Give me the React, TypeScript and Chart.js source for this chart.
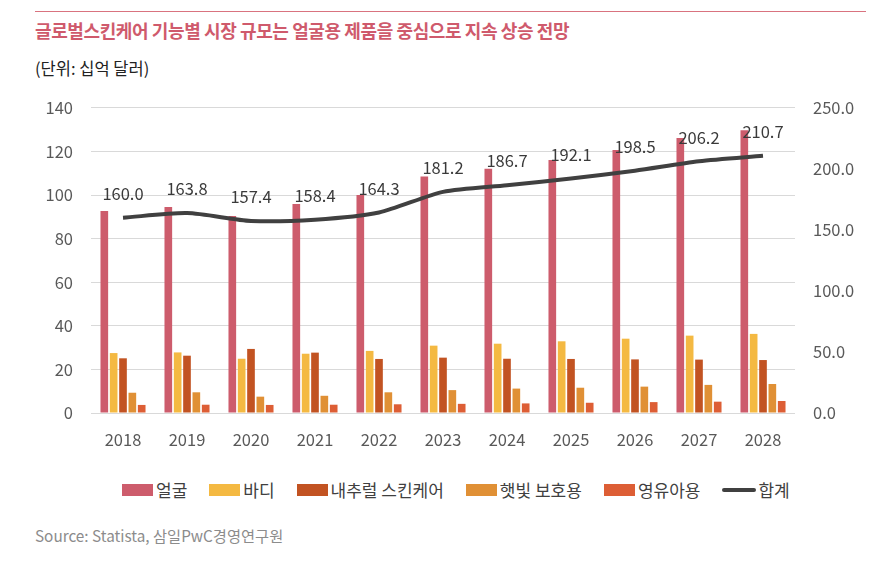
import React, { useEffect, useRef } from "react";
import { Chart, registerables } from "chart.js";

Chart.register(...registerables);

const FONT = '"Noto Sans CJK KR", "Noto Sans", sans-serif';

const years = ["2018", "2019", "2020", "2021", "2022", "2023", "2024", "2025", "2026", "2027", "2028"];
const face = [92.7, 94.5, 90.4, 95.9, 100.0, 108.5, 112.1, 116.1, 120.7, 126.2, 129.7];
const body = [27.5, 27.8, 24.9, 27.2, 28.5, 30.9, 31.8, 32.9, 34.1, 35.5, 36.3];
const natural = [25.1, 26.3, 29.4, 27.7, 24.8, 25.4, 24.9, 24.8, 24.6, 24.5, 24.3];
const sun = [9.3, 9.5, 7.5, 7.9, 9.5, 10.5, 11.2, 11.6, 12.1, 12.9, 13.3];
const baby = [3.7, 3.8, 3.7, 3.8, 4.0, 4.2, 4.4, 4.7, 5.0, 5.2, 5.5];
const total = [160.0, 163.8, 157.4, 158.4, 164.3, 181.2, 186.7, 192.1, 198.5, 206.2, 210.7];

const seriesNames = ["얼굴", "바디", "내추럴 스킨케어", "햇빛 보호용", "영유아용", "합계"];
const colors = ["#CD5C6C", "#F4B942", "#C25322", "#E09035", "#DD5E35", "#404040"];

const leftTicks = { min: 0, max: 140, step: 20 };
const rightTicks = { min: 0, max: 250, step: 50 };

const lineLabelPlugin = {
  id: "lineLabels",
  afterDatasetsDraw(chart: any) {
    const ctx = chart.ctx;
    chart.data.datasets.forEach((ds: any, i: number) => {
      if (ds.type !== "line") return;
      const meta = chart.getDatasetMeta(i);
      ctx.save();
      ctx.font = `16.5px ${FONT}`;
      ctx.fillStyle = "#3A3A3A";
      ctx.textAlign = "center";
      ctx.textBaseline = "middle";
      meta.data.forEach((pt: any, j: number) => {
        ctx.fillText(Number(ds.data[j]).toFixed(1), pt.x, pt.y - 24);
      });
      ctx.restore();
    });
  },
};

export default function App() {
  const canvasRef = useRef<HTMLCanvasElement | null>(null);

  useEffect(() => {
    if (!canvasRef.current) return;
    const barSeries = [face, body, natural, sun, baby];
    const chart = new Chart(canvasRef.current, {
      type: "bar",
      data: {
        labels: years,
        datasets: [
          {
            type: "line",
            label: seriesNames[5],
            data: total,
            yAxisID: "y1",
            borderColor: colors[5],
            backgroundColor: colors[5],
            borderWidth: 4,
            pointRadius: 0,
            tension: 0.25,
            order: 0,
          } as any,
          ...barSeries.map((d, i) => ({
            type: "bar",
            label: seriesNames[i],
            data: d,
            yAxisID: "y",
            backgroundColor: colors[i],
            borderWidth: 0,
            categoryPercentage: 0.73,
            barPercentage: 0.82,
            order: 1,
          })),
        ],
      },
      options: {
        animation: false,
        responsive: false,
        devicePixelRatio: 1,
        layout: { padding: { top: 9, left: 0, right: 0, bottom: 0 } },
        plugins: { legend: { display: false }, tooltip: { enabled: false } },
        scales: {
          x: {
            grid: { display: false, drawTicks: false },
            border: { display: false },
            ticks: { color: "#595959", font: { family: FONT, size: 16.5 }, padding: 17, maxRotation: 0 },
            afterFit: (s: any) => { s.height = 42; },
          },
          y: {
            position: "left",
            min: leftTicks.min,
            max: leftTicks.max,
            ticks: { stepSize: leftTicks.step, color: "#595959", font: { family: FONT, size: 16.5 }, padding: 18 },
            grid: { color: "#D9D9D9", lineWidth: 1, drawTicks: false },
            border: { display: false },
            afterFit: (s: any) => { s.width = 91; },
          },
          y1: {
            position: "right",
            min: rightTicks.min,
            max: rightTicks.max,
            ticks: {
              stepSize: rightTicks.step,
              color: "#595959",
              font: { family: FONT, size: 16.5 },
              padding: 18,
              callback: (v: any) => Number(v).toFixed(1),
            },
            grid: { display: false, drawTicks: false },
            border: { display: false },
            afterFit: (s: any) => { s.width = 92; },
          },
        },
      } as any,
      plugins: [lineLabelPlugin],
    });
    return () => chart.destroy();
  }, []);

  const legendItems = seriesNames.map((name, i) => (
    <div key={name} style={{ display: "flex", alignItems: "center", marginRight: 22 }}>
      {i < 5 ? (
        <div style={{ width: 31, height: 12, background: colors[i], marginRight: 3 }} />
      ) : (
        <div style={{ width: 34, height: 4, borderRadius: 2, background: colors[i], marginRight: 2 }} />
      )}
      <span style={{ fontSize: 17, color: "#404040", lineHeight: "20px" }}>{name}</span>
    </div>
  ));

  return (
    <div style={{ position: "absolute", left: 0, top: 0, width: 887, height: 561, background: "#fff", fontFamily: FONT, overflow: "hidden" }}>
      <div style={{ position: "absolute", left: 35, top: 11, width: 831, height: 1, background: "#D9737F" }} />
      <div style={{ position: "absolute", left: 35, top: 19, fontSize: 18, fontWeight: 700, color: "#CF5A6C", lineHeight: "22px", whiteSpace: "nowrap", letterSpacing: -0.4 }}>
        글로벌스킨케어 기능별 시장 규모는 얼굴용 제품을 중심으로 지속 상승 전망
      </div>
      <div style={{ position: "absolute", left: 35, top: 57, fontSize: 16.5, color: "#222", lineHeight: "22px", whiteSpace: "nowrap" }}>
        (단위: 십억 달러)
      </div>
      <canvas ref={canvasRef} width={887} height={375} style={{ position: "absolute", left: 0, top: 80, width: 887, height: 375 }} />
      <div style={{ position: "absolute", left: 122, top: 480, display: "flex", alignItems: "center", whiteSpace: "nowrap" }}>
        {legendItems}
      </div>
      <div style={{ position: "absolute", left: 35, top: 524, fontSize: 15.3, color: "#8C8C8C", lineHeight: "22px", whiteSpace: "nowrap" }}>
        Source: Statista, 삼일PwC경영연구원
      </div>
    </div>
  );
}
